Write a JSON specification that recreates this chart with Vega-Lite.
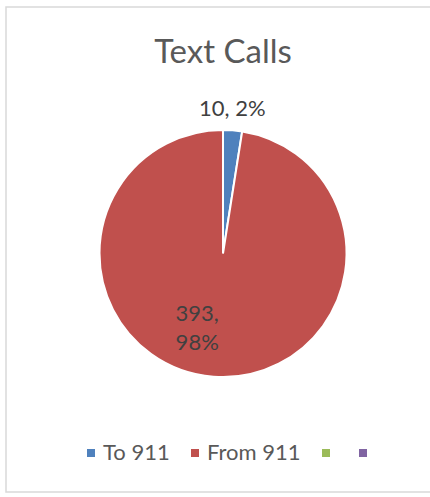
{
  "$schema": "https://vega.github.io/schema/vega-lite/v6.json",
  "width": 434,
  "height": 485,
  "autosize": "none",
  "padding": {"left": 6, "top": 7, "right": 0, "bottom": 5},
  "background": "white",
  "view": {"stroke": "#d9d9d9", "strokeWidth": 1.5, "fill": "white"},
  "config": {"font": "Lato"},
  "title": {"text": "Text Calls", "fontSize": 33, "font": "Lato", "fontWeight": "normal", "color": "#595959", "anchor": "middle", "baseline": "alphabetic", "offset": -89},
  "data": {"values": [
    {"category": "To 911", "count": 10, "order": 1, "label": "10, 2%"},
    {"category": "From 911", "count": 393, "order": 2, "label": "393,\n98%"}
  ]},
  "encoding": {
    "theta": {"field": "count", "type": "quantitative", "stack": true},
    "order": {"field": "order", "type": "quantitative"}
  },
  "layer": [
    {
      "mark": {"type": "arc", "radius": 123.5, "stroke": "white", "strokeWidth": 2, "yOffset": 4},
      "encoding": {
        "color": {
          "field": "category", "type": "nominal",
          "scale": {"domain": ["To 911", "From 911", "c3", "c4"], "range": ["#4f81bd", "#c0504d", "#9bbb59", "#8064a2"]},
          "legend": {
            "orient": "none", "legendX": 74, "legendY": 435, "direction": "horizontal", "title": null,
            "symbolType": "square", "symbolSize": 64, "symbolStrokeWidth": 0,
            "labelFont": "Lato", "labelFontSize": 22, "labelColor": "#595959", "labelOffset": 1,
            "columnPadding": 14, "padding": 0,
            "labelExpr": "datum.label == 'c3' || datum.label == 'c4' ? '' : datum.label"
          }
        }
      }
    },
    {
      "mark": {"type": "text", "radius": 145.4, "yOffset": 4, "dx": -2, "fontSize": 22, "font": "Lato", "color": "#404040", "baseline": "middle", "align": "center"},
      "encoding": {
        "text": {"condition": {"test": "datum.category == 'To 911'", "field": "label"}, "value": ""}
      }
    },
    {
      "mark": {"type": "text", "radius": 74.5, "yOffset": 4, "dx": -20, "dy": -14, "fontSize": 22, "font": "Lato", "color": "#404040", "baseline": "middle", "align": "center", "lineBreak": "\n", "lineHeight": 29},
      "encoding": {
        "text": {"condition": {"test": "datum.category == 'From 911'", "field": "label"}, "value": ""}
      }
    }
  ]
}
